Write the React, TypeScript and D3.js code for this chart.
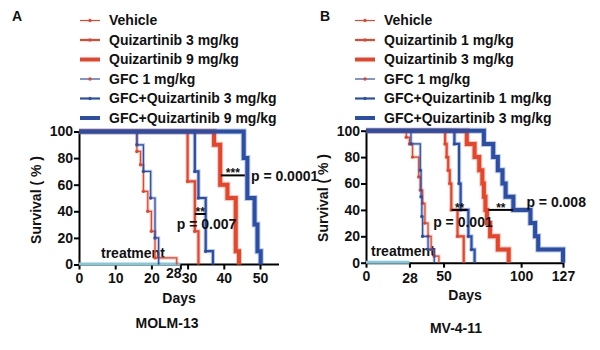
import { useEffect, useRef } from "react";
import * as d3 from "d3";

const RED = "#e5452b";
const BLUE = "#2b4fa6";
const TREAT = "#86c8da";
const FONT = "'Liberation Sans', Arial, sans-serif";

// MOLM-13 (panel A): [day, % surviving] after each drop
const molmVehicle = [[16, 85], [17, 75], [17.8, 55], [19, 40], [20, 25], [21, 5], [27, 0]];
const molmGfc1 = [[16, 90], [17.8, 70], [19.8, 50], [21, 20], [22, 0]];
const molmQuiz3 = [[30, 62.5], [32, 25], [33, 0]];
const molmCombo3 = [[32, 70], [33, 50], [35, 10], [37, 0]];
const molmQuiz9 = [[37.3, 90], [39, 60], [41, 50], [43.3, 10], [44.2, 0]];
const molmCombo9 = [[45.5, 80], [46.5, 50], [48.5, 30], [49.3, 10], [50.2, 0]];

// MV-4-11 (panel B)
const mvVehicle = [[26, 95], [28, 90], [30, 80], [34, 65], [35, 55], [36.5, 45], [38, 30], [40, 20], [42, 10], [44, 5], [47, 0]];
const mvGfc1 = [[29, 90], [35, 70], [35.5, 50], [36, 35], [36.5, 20], [40, 10], [44, 0]];
const mvQuiz1 = [[51, 90], [52, 80], [53, 70], [54, 60], [55, 40], [59, 20], [63, 0]];
const mvCombo1 = [[57, 90], [60, 60], [61, 40], [66, 20], [68, 10], [70, 0]];
const mvQuiz3 = [[65, 90], [70, 80], [73, 70], [75, 60], [76, 50], [77, 40], [78, 30], [80, 20], [85, 10], [92, 0]];
const mvCombo3 = [[76, 90], [82, 80], [85, 70], [88, 60], [90, 50], [95, 40], [106, 30], [109, 20], [111, 10], [127, 0]];

const yTicks = [0, 20, 40, 60, 80, 100];
const molmTicks = [0, 10, 20, 28, 30, 40, 50];
const mvTicks = [0, 28, 50, 100, 127];

const molmLegend = ["Vehicle", "Quizartinib 3 mg/kg", "Quizartinib 9 mg/kg", "GFC 1 mg/kg", "GFC+Quizartinib 3 mg/kg", "GFC+Quizartinib 9 mg/kg"];
const mvLegend = ["Vehicle", "Quizartinib 1 mg/kg", "Quizartinib 3 mg/kg", "GFC 1 mg/kg", "GFC+Quizartinib 1 mg/kg", "GFC+Quizartinib 3 mg/kg"];

// [fromDay, toDay, level, stars], and p-value labels [day, level, text]
const molmSig = [[32, 35, 38, "**"], [39.2, 45.8, 67, "***"]];
const molmP = [[27, 30.5, "p = 0.007"], [47.5, 66.5, "p = 0.0001"]];
const mvSig = [[55.2, 65.5, 40, "**"], [79, 94.8, 40, "**"]];
const mvP = [[43.3, 31, "p = 0.001"], [103.4, 46, "p = 0.008"]];

const styles = [
  { color: RED, w: 1.2, dots: true },
  { color: RED, w: 2.2, dots: true },
  { color: RED, w: 4, dots: false },
  { color: BLUE, w: 1.2, dots: true },
  { color: BLUE, w: 2.2, dots: true },
  { color: BLUE, w: 4, dots: false },
];

function drawPanel(svg, p) {
  const x = d3.scaleLinear().domain([0, p.xMax]).range([p.x0, p.x1]);
  const y = d3.scaleLinear().domain([0, 100]).range([p.y0, p.y1]);
  const g = svg.append("g");

  const yAxis = g.append("g")
    .attr("transform", `translate(${p.x0},0)`)
    .call(d3.axisLeft(y).tickValues(yTicks).tickSize(5).tickSizeOuter(0).tickPadding(1));
  const xAxis = g.append("g")
    .attr("transform", `translate(0,${p.y0})`)
    .call(d3.axisBottom(x).tickValues(p.ticks).tickSize(5).tickSizeOuter(0).tickPadding(2));
  [yAxis, xAxis].forEach(a => {
    a.select(".domain").attr("stroke", "#000").attr("stroke-width", 2);
    a.selectAll(".tick line").attr("stroke", "#000").attr("stroke-width", 2);
    a.selectAll("text").attr("fill", "#111").style("font", `bold 14px ${FONT}`);
  });
  // the 28 label sits a little off in both panels
  xAxis.selectAll(".tick text")
    .attr("dx", d => (p.shift28 ? (d === 28 ? -7 : d === 30 ? 1.5 : 0) : 0))
    .attr("dy", d => (d === 28 ? p.dy28 : 0) + 11);
  if (p.extendX) xAxis.select(".domain").attr("d", `M${p.x0},0H${p.extendX}`);

  g.append("line")
    .attr("x1", x(0)).attr("x2", x(28)).attr("y1", y(0) - 0.5).attr("y2", y(0) - 0.5)
    .attr("stroke", TREAT).attr("stroke-width", 3);
  g.append("text")
    .attr("x", p.treatX).attr("y", y(0) - 7)
    .attr("fill", "#111").style("font", `bold 14px ${FONT}`)
    .text("treatment");

  const line = d3.line().x(d => x(d[0])).y(d => y(d[1])).curve(d3.curveStepAfter);
  p.series.forEach((s, i) => {
    const st = styles[i];
    const pts = [[0, 100], ...s];
    // soft halo like the original export
    g.append("path")
      .attr("d", line(pts))
      .attr("fill", "none")
      .attr("stroke", st.color)
      .attr("stroke-opacity", 0.3)
      .attr("stroke-width", st.w + 2);
    g.append("path")
      .attr("d", line(pts))
      .attr("fill", "none")
      .attr("stroke", st.color)
      .attr("stroke-width", st.w);
    if (st.dots) {
      g.selectAll(null).data(s.filter(d => d[1] > 0)).enter().append("circle")
        .attr("cx", d => x(d[0])).attr("cy", d => y(d[1])).attr("r", 1.7)
        .attr("fill", st.color);
    }
  });

  p.sig.forEach(([a, b, lvl, stars]) => {
    g.append("line").attr("x1", x(a)).attr("x2", x(b)).attr("y1", y(lvl)).attr("y2", y(lvl))
      .attr("stroke", "#000").attr("stroke-width", 2);
    g.append("text").attr("x", (x(a) + x(b)) / 2).attr("y", y(lvl) + 2).attr("text-anchor", "middle")
      .attr("fill", "#111").style("font", `bold 12px ${FONT}`).text(stars);
  });
  p.pvals.forEach(([d, lvl, t]) => {
    g.append("text").attr("x", x(d)).attr("y", y(lvl)).attr("dy", "0.35em")
      .attr("fill", "#111").style("font", `bold 14px ${FONT}`).text(t);
  });

  g.append("text")
    .attr("transform", `translate(${p.ylabX},${p.ylabY}) rotate(-90)`)
    .attr("text-anchor", "middle").attr("dy", "0.35em")
    .attr("fill", "#111").style("font", `bold 14px ${FONT}`).text("Survival ( % )");
  g.append("text").attr("x", p.daysX).attr("y", p.daysY).attr("text-anchor", "middle").attr("dy", "0.35em")
    .attr("fill", "#111").style("font", `bold 14px ${FONT}`).text("Days");
  g.append("text").attr("x", p.cellX).attr("y", p.cellY).attr("text-anchor", "middle").attr("dy", "0.35em")
    .attr("fill", "#111").style("font", `bold 14px ${FONT}`).text(p.cell);
  g.append("text").attr("x", p.letterX).attr("y", 16).attr("dy", "0.35em")
    .attr("fill", "#111").style("font", `bold 14px ${FONT}`).text(p.letter);

  const leg = g.selectAll(null).data(p.legend).enter().append("g")
    .attr("transform", (d, i) => `translate(${p.legX},${20.5 + i * 19.5})`);
  leg.append("line").attr("x1", 0).attr("x2", 20).attr("y1", 0).attr("y2", 0)
    .attr("stroke", (d, i) => styles[i].color).attr("stroke-width", (d, i) => styles[i].w);
  leg.filter((d, i) => styles[i].dots).append("circle").attr("cx", 10).attr("cy", 0).attr("r", 1.7)
    .attr("fill", (d, i) => (i < 3 ? RED : BLUE));
  leg.append("text").attr("x", 29).attr("dy", "0.35em")
    .attr("fill", "#111").style("font", `bold 14px ${FONT}`).text(d => d);
}

export default function App() {
  const svgRef = useRef(null);

  useEffect(() => {
    const svg = d3.select(svgRef.current);
    svg.selectAll("*").remove();

    drawPanel(svg, {
      xMax: 50, x0: 79, x1: 260, extendX: 279, y0: 264.5, y1: 131.5,
      ticks: molmTicks, shift28: true, dy28: -5, treatX: 101,
      series: [molmVehicle, molmQuiz3, molmQuiz9, molmGfc1, molmCombo3, molmCombo9],
      sig: molmSig, pvals: molmP, legend: molmLegend,
      ylabX: 36, ylabY: 200, daysX: 179, daysY: 298, cell: "MOLM-13", cellX: 167, cellY: 323,
      letter: "A", letterX: 12, legX: 80,
    });
    drawPanel(svg, {
      xMax: 127, x0: 366, x1: 563, y0: 262.7, y1: 130.7,
      ticks: mvTicks, shift28: false, dy28: 2, treatX: 371,
      series: [mvVehicle, mvQuiz1, mvQuiz3, mvGfc1, mvCombo1, mvCombo3],
      sig: mvSig, pvals: mvP, legend: mvLegend,
      ylabX: 323, ylabY: 198, daysX: 465, daysY: 295, cell: "MV-4-11", cellX: 456, cellY: 328,
      letter: "B", letterX: 320, legX: 355,
    });
  }, []);

  return (
    <svg ref={svgRef} width={600} height={350}
      style={{ position: "absolute", left: 0, top: 0, background: "#fff" }} />
  );
}
